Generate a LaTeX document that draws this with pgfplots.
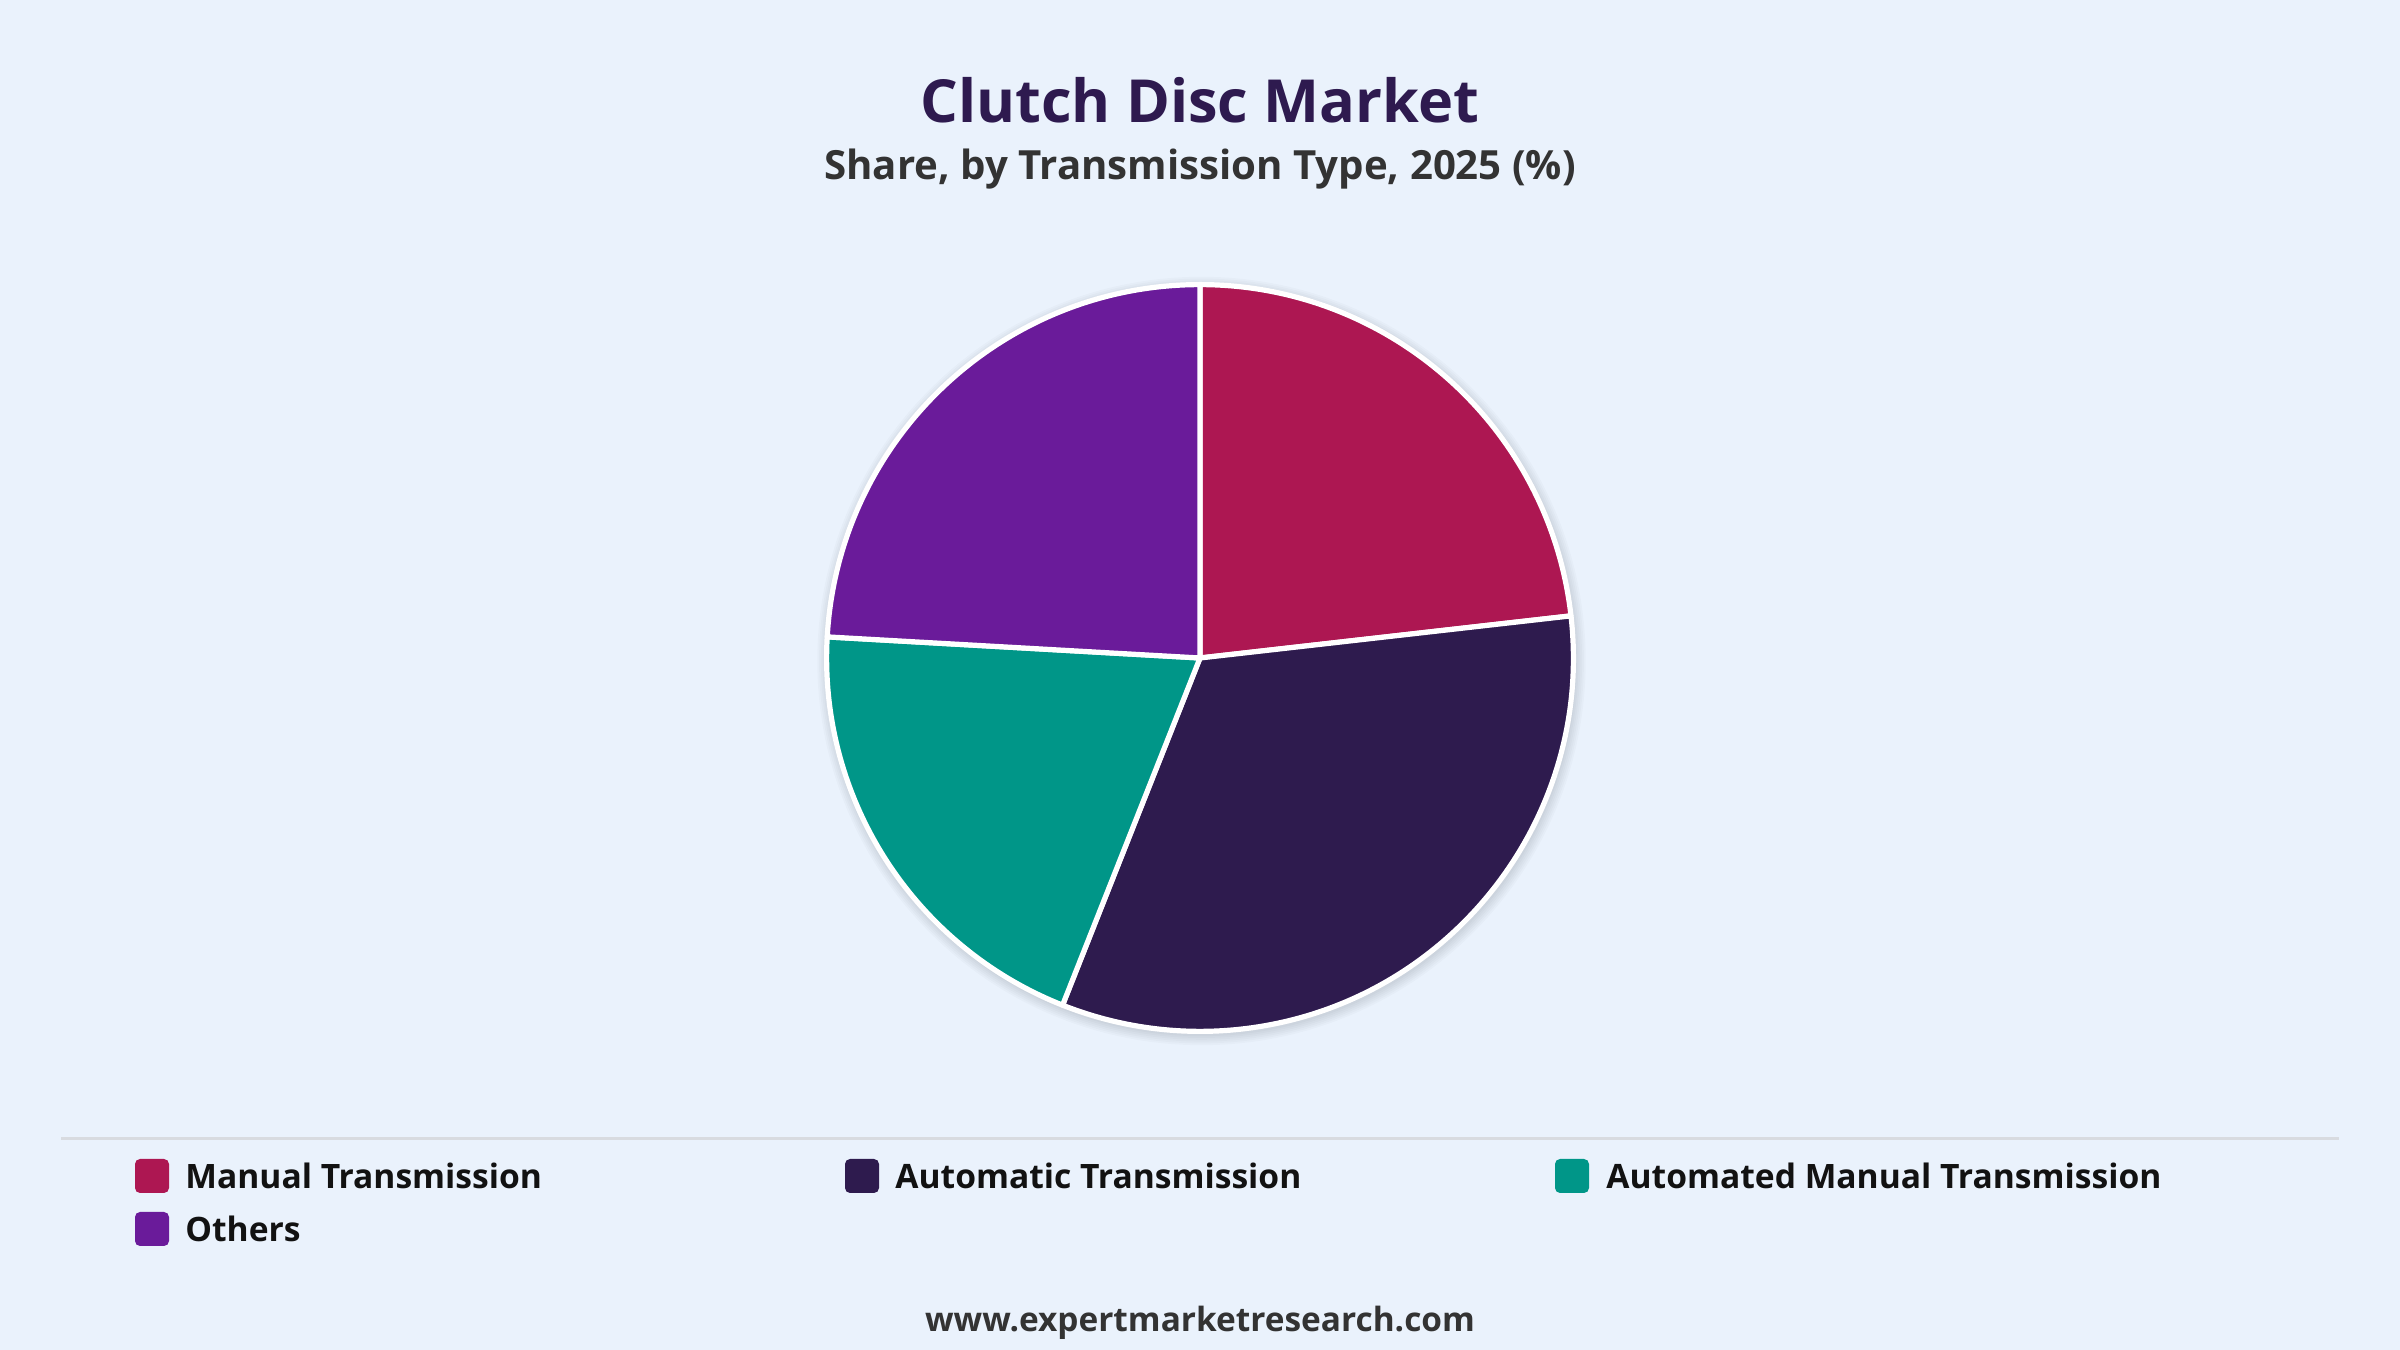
\documentclass[border=0pt]{standalone}
\usepackage{pgfplots}
\pgfplotsset{compat=1.18}
\usepackage{pgfplotstable}
\usepackage{fontspec}
\setmainfont{Open Sans}

\definecolor{bg}{HTML}{EAF2FC}
\definecolor{titlecol}{HTML}{2E1A4F}
\definecolor{subcol}{HTML}{333333}
\definecolor{manual}{HTML}{AD1752}
\definecolor{automatic}{HTML}{2E1B4E}
\definecolor{amt}{HTML}{009688}
\definecolor{others}{HTML}{6A1B9A}
\definecolor{rule}{HTML}{D8DBE0}

% share by transmission type, 2025 (%)
\pgfplotstableread{
type share
Manual 23.2
Automatic 32.8
AMT 19.9
Others 24.1
}\sharetable

\begin{document}
\begin{tikzpicture}[x=1pt,y=1pt]
\fill[bg] (0,0) rectangle (1200,675);
\useasboundingbox (0,0) rectangle (1200,675);

% slice boundaries, clockwise from 12 o'clock
\def\R{186.7pt}
\pgfmathsetmacro\aA{90}
\pgfplotstablegetelem{0}{share}\of\sharetable
\pgfmathsetmacro\aB{\aA-3.6*\pgfplotsretval}
\pgfplotstablegetelem{1}{share}\of\sharetable
\pgfmathsetmacro\aC{\aB-3.6*\pgfplotsretval}
\pgfplotstablegetelem{2}{share}\of\sharetable
\pgfmathsetmacro\aD{\aC-3.6*\pgfplotsretval}
\pgfplotstablegetelem{3}{share}\of\sharetable
\pgfmathsetmacro\aE{\aD-3.6*\pgfplotsretval}

\begin{axis}[
    at={(600pt,346pt)}, anchor=center,
    scale only axis, width=373.4pt, height=373.4pt,
    xmin=-1, xmax=1, ymin=-1, ymax=1,
    hide axis, clip=false]
  % soft shadow
  \pgfplotsinvokeforeach{1,...,6}{
    \fill[black, opacity=0.018] (axis cs:0.004,-0.008) circle[radius=186.7pt+#1*0.9pt];
  }
  \fill[manual, draw=white, line width=2.6pt, line join=round]
    (axis cs:0,0) -- ++(\aA:\R) arc[start angle=\aA, end angle=\aB, radius=\R] -- cycle;
  \fill[automatic, draw=white, line width=2.6pt, line join=round]
    (axis cs:0,0) -- ++(\aB:\R) arc[start angle=\aB, end angle=\aC, radius=\R] -- cycle;
  \fill[amt, draw=white, line width=2.6pt, line join=round]
    (axis cs:0,0) -- ++(\aC:\R) arc[start angle=\aC, end angle=\aD, radius=\R] -- cycle;
  \fill[others, draw=white, line width=2.6pt, line join=round]
    (axis cs:0,0) -- ++(\aD:\R) arc[start angle=\aD, end angle=\aE, radius=\R] -- cycle;
\end{axis}

% titles
\node[text=titlecol, font=\fontsize{29.7}{34}\selectfont\bfseries] at (600,625) {Clutch Disc Market};
\node[text=subcol, font=\fontsize{20.1}{24}\selectfont\bfseries] at (600,590.5) {Share, by Transmission Type, 2025 (\%)};

% separator
\draw[rule, line width=1.5pt] (30.5,105.5) -- (1169.5,105.5);

% legend
\begin{scope}[every node/.style={anchor=west, inner sep=0pt, text=black!93, font=\fontsize{16.8}{20}\selectfont\bfseries}]
  \fill[manual, rounded corners=2.5pt] (67.5,78.5) rectangle (84.5,95.5);
  \node at (92.5,87) {Manual Transmission};
  \fill[automatic, rounded corners=2.5pt] (422.5,78.5) rectangle (439.5,95.5);
  \node at (447.5,87) {Automatic Transmission};
  \fill[amt, rounded corners=2.5pt] (777.5,78.5) rectangle (794.5,95.5);
  \node at (803,87) {Automated Manual Transmission};
  \fill[others, rounded corners=2.5pt] (67.5,52) rectangle (84.5,69);
  \node at (92.5,60.5) {Others};
\end{scope}

% footer
\node[text=subcol, font=\fontsize{16.7}{20}\selectfont\bfseries] at (600,13.5) {www.expertmarketresearch.com};
\end{tikzpicture}
\end{document}
